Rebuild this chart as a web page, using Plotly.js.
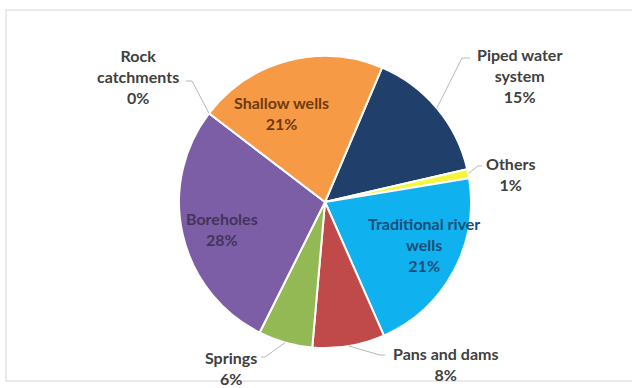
<!DOCTYPE html>
<html>
<head>
<meta charset="utf-8">
<script src="https://cdn.plot.ly/plotly-3.0.1.min.js"></script>
<style>html,body{margin:0;padding:0;background:#fff;}#chart{width:632px;height:388px;}</style>
</head>
<body>
<div id="chart"></div>
<script>
// Data (clockwise from the top-right)
var categories = ["Piped water\nsystem", "Others", "Traditional river\nwells", "Pans and dams", "Springs", "Boreholes", "Rock\ncatchments", "Shallow wells"];
var values = [15, 1, 21, 8, 6, 28, 0, 21];
var colors = ["#213f6b", "#f5f53a", "#0fb2ee", "#c0494a", "#93b954", "#7b5ea6", "#ffffff", "#f79a45"];

// Label styling/positions (pixel positions of label centres)
var W = 632, H = 388;
var cx = 325, cy = 202, R = 146, rotation = 23;
var labelPos = [
  {x: 519, y: 76, color: "#404040"},
  {x: 510, y: 174, color: "#404040"},
  {x: 424, y: 244, color: "#1a4d78"},
  {x: 445, y: 364, color: "#404040"},
  {x: 231, y: 368, color: "#404040"},
  {x: 222, y: 229, color: "#443459"},
  {x: 138, y: 77, color: "#404040"},
  {x: 281, y: 113, color: "#6e3a10"}
];
// leader line bends (pixel), null for inside labels
var leaderBends = [
  [[462, 58], [470, 58]],
  [[478, 166], [482, 166]],
  null,
  [[380, 355], [385, 355]],
  [[265, 357], [261, 357]],
  null,
  [[192, 81], [186, 81]],
  null
];

var total = values.reduce(function (a, b) { return a + b; }, 0);
function px(x) { return x / W; }
function py(y) { return 1 - y / H; }

var annotations = [];
var shapes = [];
var cum = 0;
for (var i = 0; i < values.length; i++) {
  var mid = rotation + (cum + values[i] / 2) / total * 360;
  cum += values[i];
  var pct = Math.round(values[i] / total * 100) + "%";
  var txt = categories[i].split("\n").join("<br>") + "<br>" + pct;
  var lp = labelPos[i];
  annotations.push({
    xref: "paper", yref: "paper", x: px(lp.x), y: py(lp.y),
    xanchor: "center", yanchor: "middle", showarrow: false,
    text: txt, align: "center",
    font: {family: "Lato, 'Open Sans', sans-serif", size: 16, color: lp.color, weight: "bold"}
  });
  if (leaderBends[i]) {
    var a = mid * Math.PI / 180;
    var ex = cx + R * Math.sin(a), ey = cy - R * Math.cos(a);
    var b = leaderBends[i];
    shapes.push({
      type: "path", xref: "paper", yref: "paper",
      path: "M" + px(ex) + "," + py(ey) + " L" + px(b[0][0]) + "," + py(b[0][1]) + " L" + px(b[1][0]) + "," + py(b[1][1]),
      line: {color: "#b8b8b8", width: 1}
    });
  }
}
// chart area frame
shapes.push({type: "rect", xref: "paper", yref: "paper", x0: px(6), x1: px(640), y0: py(381), y1: py(10),
  line: {color: "#e4e4e4", width: 1.5}, layer: "below"});

var trace = {
  type: "pie",
  labels: categories,
  values: values,
  sort: false,
  direction: "clockwise",
  rotation: rotation,
  marker: {colors: colors, line: {color: "#ffffff", width: 2}},
  textinfo: "none",
  hoverinfo: "label+percent",
  showlegend: false,
  domain: {x: [px(cx - R), px(cx + R)], y: [py(cy + R), py(cy - R)]}
};

var layout = {
  width: W, height: H,
  margin: {l: 0, r: 0, t: 0, b: 0},
  paper_bgcolor: "#ffffff",
  annotations: annotations,
  shapes: shapes
};

Plotly.newPlot("chart", [trace], layout, {displayModeBar: false, staticPlot: true});
</script>
</body>
</html>
